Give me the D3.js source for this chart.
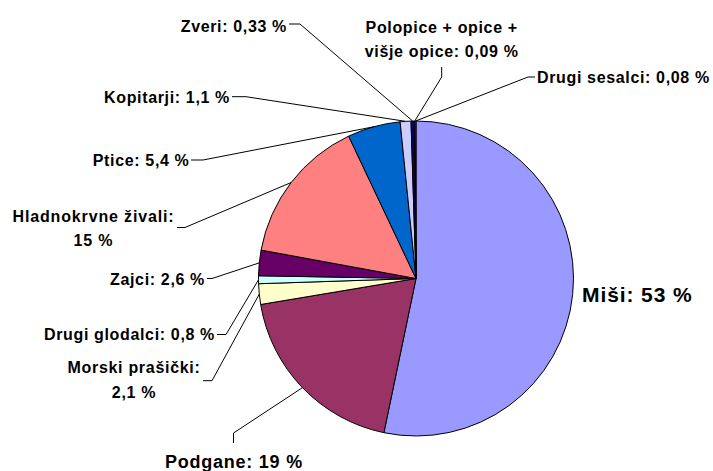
<!DOCTYPE html>
<html>
<head>
<meta charset="utf-8">
<script src="https://cdn.jsdelivr.net/npm/d3@7"></script>
<style>
  html, body { margin: 0; padding: 0; background: #ffffff; }
  svg { display: block; }
  text { font-family: "Liberation Sans", Arial, sans-serif; font-weight: bold; fill: #000; }
</style>
</head>
<body>
<svg id="chart" width="713" height="471"></svg>
<script>
// ---- data ----
const categories = ["Miši", "Podgane", "Morski prašički", "Drugi glodalci", "Zajci",
  "Hladnokrvne živali", "Ptice", "Kopitarji", "Zveri", "Polopice + opice + višje opice", "Drugi sesalci"];
const values = [53, 19, 2.1, 0.8, 2.6, 15, 5.4, 1.1, 0.33, 0.09, 0.08];
const valueLabels = ["53 %", "19 %", "2,1 %", "0,8 %", "2,6 %", "15 %", "5,4 %", "1,1 %", "0,33 %", "0,09 %", "0,08 %"];
const colors = ["#9999FF", "#993366", "#FFFFCC", "#CCFFFF", "#660066", "#FF8080",
  "#0066CC", "#CCCCFF", "#000080", "#FF00FF", "#FFFF00"];

// ---- layout (label placement) ----
const labelLayout = [
  { lines: ["Miši: 53 %"], x: 582, y: 301.5, anchor: "start", size: 21, ls: 0.9, leader: null },
  { lines: ["Podgane: 19 %"], x: 234, y: 468, anchor: "middle", size: 18, ls: 0.75, leader: [[233.5, 443], [233.5, 433]] },
  { lines: ["Morski prašički:", "2,1 %"], x: 134, y: 373, anchor: "middle", size: 16, ls: 0.7, leader: [[203, 380.7], [212, 380.7]] },
  { lines: ["Drugi glodalci: 0,8 %"], x: 215, y: 339.5, anchor: "end", size: 16, ls: 0.65, leader: [[217, 334.5], [226, 334.5]] },
  { lines: ["Zajci: 2,6 %"], x: 205, y: 285, anchor: "end", size: 16, ls: 0.65, leader: [[207, 278.5], [212, 278.5]] },
  { lines: ["Hladnokrvne živali:", "15 %"], x: 93.5, y: 221.5, anchor: "middle", size: 16, ls: 0.85, leader: [[177, 227.5], [185, 227.5]] },
  { lines: ["Ptice: 5,4 %"], x: 189.5, y: 166, anchor: "end", size: 16, ls: 0.65, leader: [[191, 160], [203, 160]] },
  { lines: ["Kopitarji: 1,1 %"], x: 230, y: 103, anchor: "end", size: 16, ls: 0.65, leader: [[232, 96.7], [246, 96.7]] },
  { lines: ["Zveri: 0,33 %"], x: 287, y: 31.7, anchor: "end", size: 16, ls: 0.65, leader: [[289, 24], [300, 24]] },
  { lines: ["Polopice + opice +", "višje opice: 0,09 %"], x: 441.7, y: 32.5, anchor: "middle", size: 16, ls: 0.65, leader: [[441.7, 67], [441.7, 77]] },
  { lines: ["Drugi sesalci: 0,08 %"], x: 537, y: 83, anchor: "start", size: 16, ls: 0.65, leader: [[535, 77], [528, 77]] }
];
const lineGap = 24.5;

const cx = 416, cy = 278.5, radius = 157.5;

const svg = d3.select("#chart");
const g = svg.append("g").attr("transform", `translate(${cx},${cy})`);

const pie = d3.pie().sort(null).value(d => d.value);
const data = categories.map((c, i) => ({ name: c, value: values[i], color: colors[i], label: labelLayout[i] }));
const arcs = pie(data);
const arc = d3.arc().innerRadius(0).outerRadius(radius);

g.selectAll("path.slice").data(arcs).enter().append("path")
  .attr("class", "slice")
  .attr("d", arc)
  .attr("fill", d => d.data.color)
  .attr("stroke", "#000")
  .attr("stroke-width", 1)
  .attr("stroke-linejoin", "round");

// leader lines
const line = d3.line();
arcs.forEach(a => {
  const L = a.data.label;
  if (!L.leader) return;
  const mid = (a.startAngle + a.endAngle) / 2;
  const ex = cx + radius * Math.sin(mid);
  const ey = cy - radius * Math.cos(mid);
  const pts = [L.leader[0], L.leader[1], [ex, ey]];
  svg.append("path")
    .attr("d", line(pts))
    .attr("fill", "none")
    .attr("stroke", "#000")
    .attr("stroke-width", 1);
});

// labels
arcs.forEach(a => {
  const L = a.data.label;
  const t = svg.append("text")
    .attr("x", L.x).attr("y", L.y)
    .attr("text-anchor", L.anchor)
    .style("font-size", L.size + "px")
    .style("letter-spacing", L.ls + "px");
  L.lines.forEach((ln, k) => {
    t.append("tspan").attr("x", L.x).attr("y", L.y + k * lineGap).text(ln);
  });
});
</script>
</body>
</html>
